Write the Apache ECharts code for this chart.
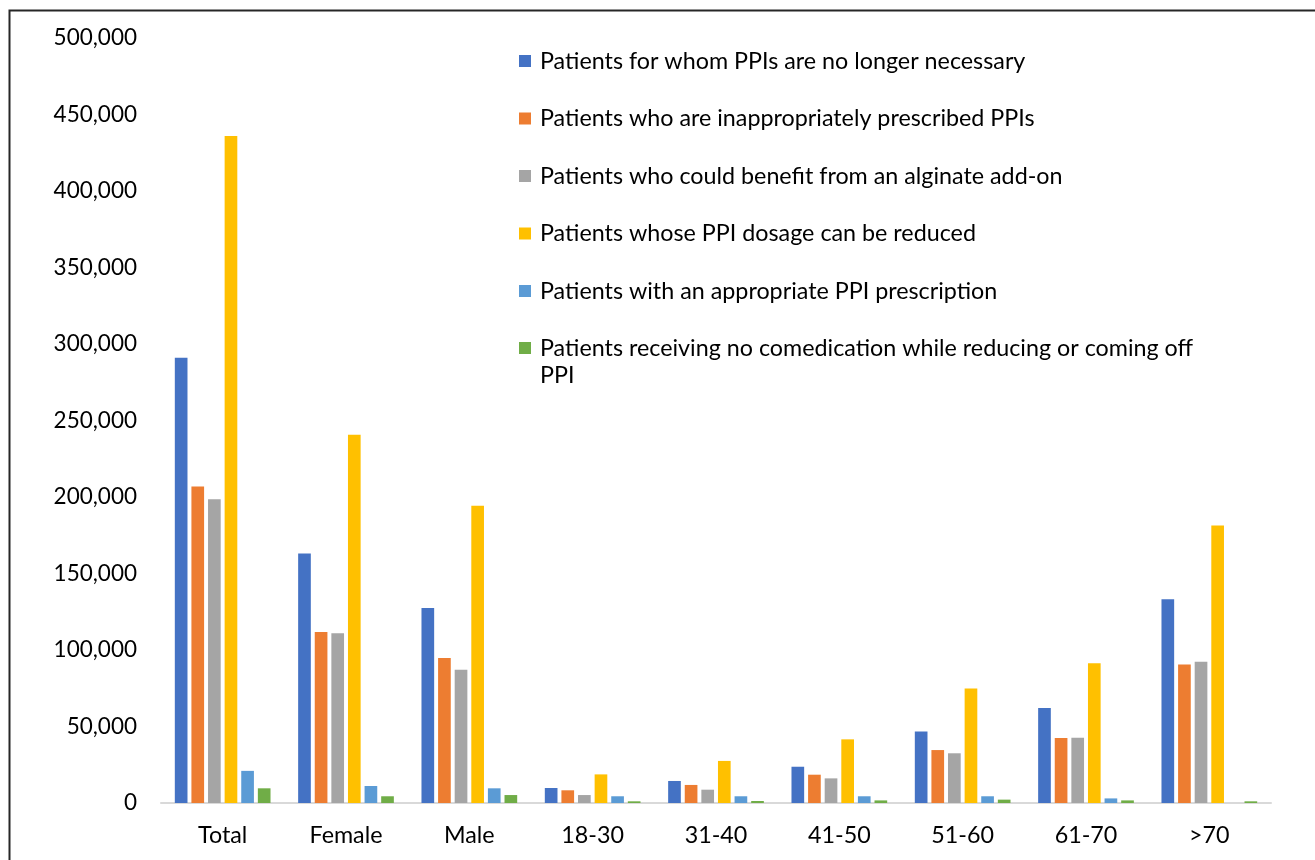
<!DOCTYPE html>
<html>
<head>
<meta charset="utf-8">
<script src="https://cdn.jsdelivr.net/npm/echarts@6/dist/echarts.min.js"></script>
<style>
  html, body { margin: 0; padding: 0; background: #fff; }
  #chart { width: 1315px; height: 860px; }
</style>
</head>
<body>
<div id="chart"></div>
<script>
// Patient groups by sex and age band
const categories = ['Total', 'Female', 'Male', '18-30', '31-40', '41-50', '51-60', '61-70', '>70'];

const seriesNames = [
  'Patients for whom PPIs are no longer necessary',
  'Patients who are inappropriately prescribed PPIs',
  'Patients who could benefit from an alginate add-on',
  'Patients whose PPI dosage can be reduced',
  'Patients with an appropriate PPI prescription',
  'Patients receiving no comedication while reducing or coming off PPI'
];

const noLongerNecessary = [291000, 163000, 127500, 9800, 14400, 23700, 46800, 62100, 133100];
const inappropriatelyPrescribed = [206800, 111700, 94800, 8300, 11800, 18500, 34600, 42500, 90600];
const alginateAddOn = [198600, 111000, 87100, 5200, 8700, 16100, 32500, 42700, 92400];
const dosageReduced = [436000, 240700, 194300, 18700, 27500, 41600, 74900, 91300, 181300];
const appropriatePrescription = [21000, 11100, 9600, 4400, 4400, 4400, 4400, 3000, 0];
const noComedication = [9600, 4400, 5200, 1100, 1300, 1700, 2200, 1700, 1100];

const yTicks = { min: 0, max: 500000, interval: 50000 };

const colors = ['#4472C4', '#ED7D31', '#A5A5A5', '#FFC000', '#5B9BD5', '#70AD47'];
const seriesValues = [noLongerNecessary, inappropriatelyPrescribed, alginateAddOn,
  dosageReduced, appropriatePrescription, noComedication];

const FONT = 'Lato, "Open Sans", sans-serif';
const FS = 23.3;
const FS_Y = 22.5;
const LH = 27;

// legend rows: centre of each swatch
const legendCentres = [61, 118.5, 176, 233.5, 291, 348];

// wrap long legend names; a leading blank line keeps the swatch level with the first line
function wrapName(name) {
  const maxChars = 64;
  if (name.length <= maxChars) return name;
  const cut = name.lastIndexOf(' ', maxChars);
  return '\u00a0\n' + name.slice(0, cut) + '\n' + name.slice(cut + 1);
}

const legends = seriesNames.map((name, i) => {
  const lines = wrapName(name).split('\n').length;
  return {
    data: [name],
    left: 519,
    top: legendCentres[i] - (lines * LH) / 2,
    padding: 0,
    itemWidth: 12,
    itemHeight: 12,
    icon: 'rect',
    selectedMode: false,
    formatter: wrapName,
    textStyle: {
      fontFamily: FONT,
      fontSize: FS,
      lineHeight: LH,
      color: '#000',
      padding: [0, 0, 0, 4]
    }
  };
});

const chart = echarts.init(document.getElementById('chart'), null, { renderer: 'canvas' });

chart.setOption({
  animation: false,
  backgroundColor: '#fff',
  textStyle: { fontFamily: FONT },
  graphic: [{
    type: 'rect',
    left: 7,
    top: 8,
    shape: { width: 1330, height: 900 },
    style: { fill: 'none', stroke: '#262626', lineWidth: 2 },
    silent: true,
    z: 100
  }],
  legend: legends,
  grid: { left: 161, right: 44, top: 38, bottom: 57, containLabel: false },
  xAxis: {
    type: 'category',
    data: categories,
    axisTick: { show: false },
    axisLine: { lineStyle: { color: '#d9d9d9', width: 2 } },
    axisLabel: { fontFamily: FONT, fontSize: FS, color: '#000', margin: 21 }
  },
  yAxis: {
    type: 'value',
    min: yTicks.min,
    max: yTicks.max,
    interval: yTicks.interval,
    axisLine: { show: false },
    axisTick: { show: false },
    splitLine: { show: false },
    axisLabel: {
      fontFamily: FONT,
      fontSize: FS_Y,
      color: '#000',
      margin: 24,
      formatter: v => v.toLocaleString('en-US')
    }
  },
  series: seriesNames.map((name, i) => ({
    name: name,
    type: 'bar',
    data: seriesValues[i],
    itemStyle: { color: colors[i] },
    barGap: '31%',
    barCategoryGap: '22.4%'
  }))
});
</script>
</body>
</html>
